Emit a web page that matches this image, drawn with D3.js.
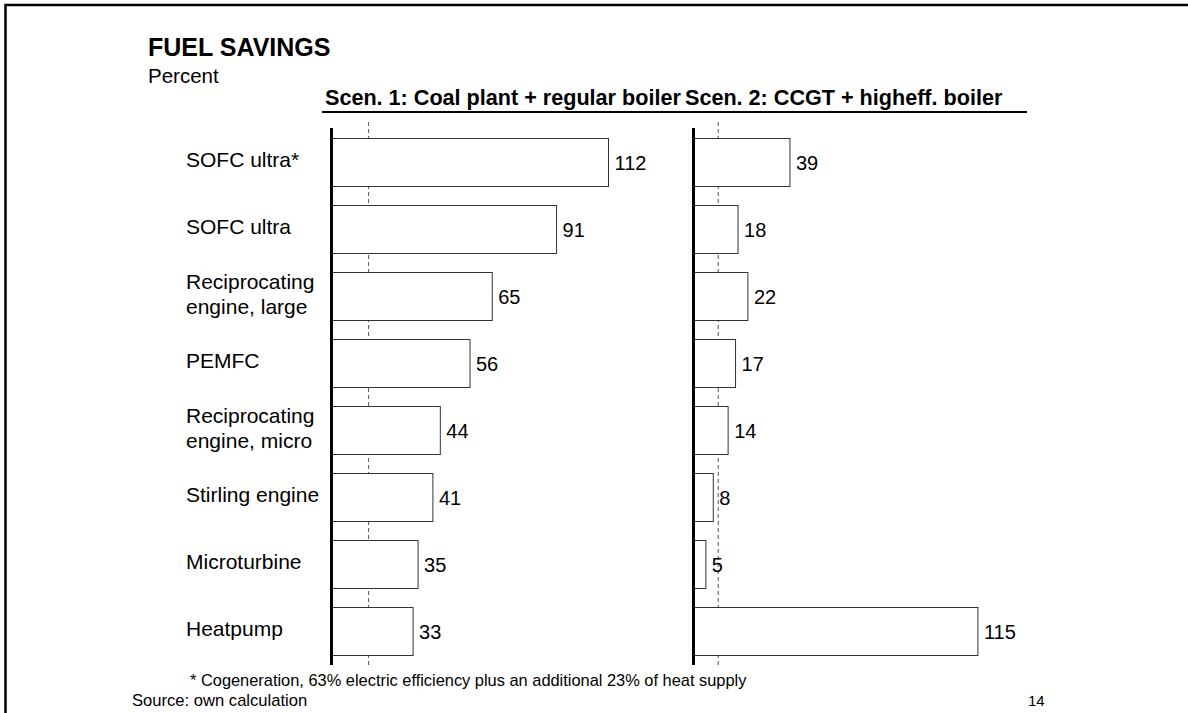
<!DOCTYPE html>
<html>
<head>
<meta charset="utf-8">
<script src="https://cdn.jsdelivr.net/npm/d3@7"></script>
<style>
  html, body { margin: 0; padding: 0; background: #fff; }
  svg { display: block; font-family: "Liberation Sans", Arial, sans-serif; }
</style>
</head>
<body>
<svg id="chart" width="1188" height="713"></svg>
<script>
// Technologies (top to bottom); multi-line labels split on "|"
const categories = [
  "SOFC ultra*",
  "SOFC ultra",
  "Reciprocating|engine, large",
  "PEMFC",
  "Reciprocating|engine, micro",
  "Stirling engine",
  "Microturbine",
  "Heatpump"
];

// Fuel savings in percent per scenario
const scen1Values = [112, 91, 65, 56, 44, 41, 35, 33];
const scen2Values = [39, 18, 22, 17, 14, 8, 5, 115];

const panelTitles = [
  "Scen. 1: Coal plant + regular boiler",
  "Scen. 2: CCGT + higheff. boiler"
];

// Dashed reference level in each panel (percent)
const refLines = [15, 10];

const title = "FUEL SAVINGS";
const unitLabel = "Percent";
const footnote = "* Cogeneration, 63% electric efficiency plus an additional 23% of heat supply";
const sourceNote = "Source: own calculation";
const pageNumber = "14";

const svg = d3.select("#chart");

// Frame lines along top and left edge
svg.append("path")
  .attr("d", "M5.5,713 V5 H1188")
  .attr("fill", "none")
  .attr("stroke", "#000")
  .attr("stroke-width", 2.5);

// Title block
svg.append("text").attr("x", 148).attr("y", 56)
  .attr("font-size", 25).attr("font-weight", "bold").text(title);
svg.append("text").attr("x", 148).attr("y", 83)
  .attr("font-size", 20.5).text(unitLabel);

// Shared scales
const y = d3.scaleBand()
  .domain(categories)
  .range([128.5, 664.5])
  .paddingInner(19 / 67)
  .paddingOuter(9.5 / 67);

const x = d3.scaleLinear().domain([0, 120]).range([0, 120 * 277 / 112]);

const panelX = [331.5, 693.5];
const panelData = [scen1Values, scen2Values];

// Panel headings with a common underline
svg.append("line")
  .attr("x1", 322).attr("x2", 1027).attr("y1", 112).attr("y2", 112)
  .attr("stroke", "#000").attr("stroke-width", 2);
svg.append("text").attr("x", 325).attr("y", 105)
  .attr("font-size", 21.6).attr("font-weight", "bold").text(panelTitles[0]);
svg.append("text").attr("x", 685).attr("y", 105)
  .attr("font-size", 21.6).attr("font-weight", "bold").text(panelTitles[1]);

// Category labels
const labels = svg.append("g").attr("font-size", 21);
categories.forEach(c => {
  const lines = c.split("|");
  const cy = y(c) + y.bandwidth() / 2;
  const t = labels.append("text").attr("x", 186);
  lines.forEach((ln, i) => {
    t.append("tspan")
      .attr("x", 186)
      .attr("y", cy + 5 + (i - (lines.length - 1) / 2) * 25)
      .text(ln);
  });
});

// Panels
panelData.forEach((vals, p) => {
  const g = svg.append("g").attr("transform", `translate(${panelX[p]},0)`);

  g.append("line")
    .attr("x1", x(refLines[p])).attr("x2", x(refLines[p]))
    .attr("y1", 122).attr("y2", 665)
    .attr("stroke", "#555").attr("stroke-width", 1)
    .attr("stroke-dasharray", "4,3");

  g.selectAll("rect").data(vals).join("rect")
    .attr("x", 0)
    .attr("y", (d, i) => y(categories[i]) + 0.5)
    .attr("width", d => x(d))
    .attr("height", y.bandwidth())
    .attr("fill", "#fff")
    .attr("stroke", "#333")
    .attr("stroke-width", 1);

  g.selectAll("text.val").data(vals).join("text")
    .attr("class", "val")
    .attr("x", d => x(d) + 6)
    .attr("y", (d, i) => y(categories[i]) + y.bandwidth() / 2 + 8)
    .attr("font-size", 20)
    .text(d => d);

  g.append("line")
    .attr("x1", 0).attr("x2", 0)
    .attr("y1", 128).attr("y2", 665)
    .attr("stroke", "#000").attr("stroke-width", 3);
});

// Notes
svg.append("text").attr("x", 190).attr("y", 686)
  .attr("font-size", 16.4).text(footnote);
svg.append("text").attr("x", 132).attr("y", 706)
  .attr("font-size", 16.6).text(sourceNote);
svg.append("text").attr("x", 1028).attr("y", 706)
  .attr("font-size", 15).text(pageNumber);
</script>
</body>
</html>
